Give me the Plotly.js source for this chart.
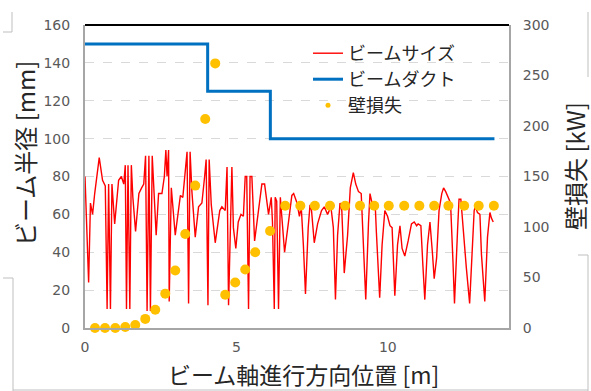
<!DOCTYPE html>
<html><head><meta charset="utf-8">
<script src="https://cdn.plot.ly/plotly-3.0.1.min.js"></script>
<style>html,body{margin:0;padding:0;background:#fff;}#chart{width:591px;height:391px;}</style>
</head><body><div id="chart"></div>
<script>
// Beam size (left axis, mm) along beam axis position (m)
const beamX = [
  0.00,0.06,0.12,0.18,0.25,0.32,0.47,0.58,0.67,0.73,0.78,0.84,0.89,0.98,1.11,1.20,1.28,1.33,1.37,1.42,1.48,1.53,1.58,1.67,1.78,1.87,1.94,2.00,2.05,2.11,2.16,2.22,2.31,2.35,
  2.43,2.54,2.62,2.67,2.71,2.76,2.78,2.85,2.98,3.15,3.23,3.29,3.37,3.42,3.47,3.53,3.64,3.75,3.86,3.95,4.00,4.06,4.10,4.17,4.30,4.45,4.52,4.63,4.69,4.74,
  4.85,4.90,4.98,5.06,5.15,5.23,5.29,5.34,5.40,5.45,5.51,5.60,5.73,5.84,5.93,6.00,6.06,6.15,6.19,6.25,6.28,6.33,6.39,6.45,6.50,6.59,6.72,6.83,6.89,7.00,7.08,7.14,
  7.21,7.28,7.37,7.43,7.48,7.57,7.68,7.81,7.90,8.01,8.12,8.20,8.27,8.34,8.42,8.48,8.56,8.67,8.76,8.86,8.94,9.03,9.12,9.19,9.27,9.36,9.41,9.49,9.58,
  9.62,9.73,9.81,9.90,9.99,10.07,10.14,10.23,10.32,10.40,10.47,10.56,10.67,10.78,10.87,10.95,11.00,11.09,11.15,11.22,11.31,11.39,11.47,11.53,11.61,11.69,11.78,11.84,11.91,12.00,
  12.07,12.15,12.20,12.30,12.35,12.41,12.48,12.59,12.70,12.78,12.85,12.89,12.96,13.04,13.09,13.20,13.29,13.37,13.42,13.48
];
const beamSize = [
  80,49,24,66,60,71,90,78,75,10,76,10,76,55,78,80,76,86,10,86,10,86,69,51,71,74,76,91,9,91,9,91,62,49,
  71,71,80,94,80,94,14,74,49,70,69,80,93,13,93,72,48,64,66,80,89,12,89,65,45,62,64,62,85,12,
  85,53,42,56,60,59,80,80,10,80,80,46,62,76,76,67,60,69,56,10,69,67,10,69,58,40,56,70,71,66,59,64,
  44,18,53,65,62,45,55,62,64,60,64,53,15,49,66,62,29,49,74,82,76,72,71,46,15,55,71,65,66,
  51,16,44,62,59,54,53,17,44,54,42,38,46,55,56,54,55,54,35,15,44,56,40,26,37,62,71,74,72,69,
  66,35,13,51,68,68,53,32,13,44,62,64,61,60,39,14,48,61,58,56
];
// Beam duct radius (left axis, mm)
const ductX = [0, 4.05, 4.05, 6.12, 6.12, 13.52];
const ductRadius = [150, 150, 125, 125, 100, 100];
// Wall loss (right axis, kW)
const lossX = [0.33,0.66,1.00,1.33,1.66,1.99,2.32,2.65,2.98,3.31,3.64,3.97,4.30,4.63,4.96,5.29,5.62,6.11,
  6.61,7.11,7.59,8.09,8.59,9.08,9.55,10.03,10.54,11.04,11.53,12.00,12.52,13.00,13.50];
const wallLoss = [0,0,0,1,3,9,18,34,57,93,141,207,262,33,45,58,75,96,
  121,121,121,121,121,121,121,121,121,121,121,121,121,121,121];
const xTickVals = [0, 5, 10];
const leftTickVals = [0,20,40,60,80,100,120,140,160];
const rightTickVals = [0,50,100,150,200,250,300];
const names = ['ビームサイズ', 'ビームダクト', '壁損失'];
const titles = {x: 'ビーム軸進行方向位置 [m]', y: 'ビーム半径 [mm]', y2: '壁損失 [kW]'};

const CJK = '"Noto Sans CJK JP", "Noto Sans", sans-serif';
const TICKF = {family: '"DejaVu Sans", Verdana, sans-serif', size: 14, color: '#595959'};

const traces = [
  {x: beamX, y: beamSize, type: 'scatter', mode: 'lines', name: names[0],
   line: {color: '#FF0000', width: 1.4}, yaxis: 'y', legend: 'legend'},
  {x: ductX, y: ductRadius, type: 'scatter', mode: 'lines', name: names[1],
   line: {color: '#0070C0', width: 3}, yaxis: 'y', legend: 'legend2'},
  {x: lossX, y: wallLoss, type: 'scatter', mode: 'markers', name: names[2],
   marker: {color: '#FFC000', size: 10}, yaxis: 'y2', cliponaxis: false, showlegend: false},
  // legend-only entry (small marker as in the reference legend)
  {x: [null], y: [null], type: 'scatter', mode: 'markers', name: names[2],
   marker: {color: '#FFC000', size: 5}, yaxis: 'y2', legend: 'legend3'}
];

const P = (px) => (px - 85) / 424;
const Q = (py) => (328 - py) / 303;
const art = {type: 'line', xref: 'paper', yref: 'paper', line: {color: '#BFBFBF', width: 1}};
const shapes = [
  {type: 'line', xref: 'paper', yref: 'paper', x0: 0, x1: 1, y0: 1, y1: 1, line: {color: '#000000', width: 2}},
  Object.assign({x0: P(12), x1: P(12), y0: Q(12), y1: Q(32)}, art),
  Object.assign({x0: P(3), x1: P(12), y0: Q(32), y1: Q(32)}, art),
  Object.assign({x0: P(13), x1: P(13), y0: Q(278), y1: Q(391)}, art),
  Object.assign({x0: P(3), x1: P(13), y0: Q(278), y1: Q(278)}, art),
  Object.assign({x0: P(13), x1: P(588), y0: Q(390), y1: Q(390)}, art),
  Object.assign({x0: P(588), x1: P(588), y0: Q(12), y1: Q(77)}, art),
  Object.assign({x0: P(588), x1: P(588), y0: Q(255), y1: Q(391)}, art),
  Object.assign({x0: P(578), x1: P(588), y0: Q(255), y1: Q(255)}, art)
];

const annotations = [
  {text: titles.y, xref: 'paper', yref: 'paper', x: P(24), y: Q(154), textangle: -90,
   showarrow: false, xanchor: 'center', yanchor: 'middle', font: {family: CJK, size: 24, color: '#262626'}},
  {text: titles.y2, xref: 'paper', yref: 'paper', x: P(574), y: Q(166), textangle: -90,
   showarrow: false, xanchor: 'center', yanchor: 'middle', font: {family: CJK, size: 24, color: '#262626'}},
  {text: titles.x, xref: 'paper', yref: 'paper', x: P(303), y: Q(374),
   showarrow: false, xanchor: 'center', yanchor: 'middle', font: {family: CJK, size: 23, color: '#262626'}}
];

const legendBase = {xanchor: 'left', yanchor: 'top', bgcolor: 'rgba(0,0,0,0)',
  font: {family: CJK, size: 18, color: '#262626'}, itemwidth: 30};

const layout = {
  width: 591, height: 391,
  margin: {l: 85, r: 82, t: 25, b: 63, pad: 0},
  paper_bgcolor: '#FFFFFF', plot_bgcolor: '#FFFFFF',
  showlegend: true,
  legend: Object.assign({x: P(308), y: Q(35)}, legendBase),
  legend2: Object.assign({x: P(308), y: Q(61)}, legendBase),
  legend3: Object.assign({x: P(308), y: Q(87)}, legendBase),
  xaxis: {range: [0, 14], tickvals: xTickVals, ticktext: xTickVals.map(String),
    showgrid: false, zeroline: false, showline: true, linecolor: '#A6A6A6', linewidth: 2,
    ticks: 'outside', ticklen: 5, tickcolor: 'rgba(0,0,0,0)', tickfont: TICKF},
  yaxis: {range: [0, 160], tickvals: leftTickVals, showgrid: true, gridcolor: '#D9D9D9',
    griddash: 'dash', gridwidth: 1, zeroline: false, showline: true, linecolor: '#A6A6A6', linewidth: 2,
    ticks: 'outside', ticklen: 10, tickcolor: 'rgba(0,0,0,0)', tickfont: TICKF},
  yaxis2: {range: [0, 300], tickvals: rightTickVals, overlaying: 'y', side: 'right',
    showgrid: false, zeroline: false, showline: true, linecolor: '#A6A6A6', linewidth: 2,
    ticks: 'outside', ticklen: 9, tickcolor: 'rgba(0,0,0,0)', tickfont: TICKF},
  shapes: shapes,
  annotations: annotations
};

Plotly.newPlot('chart', traces, layout, {staticPlot: true, displayModeBar: false});
</script></body></html>
